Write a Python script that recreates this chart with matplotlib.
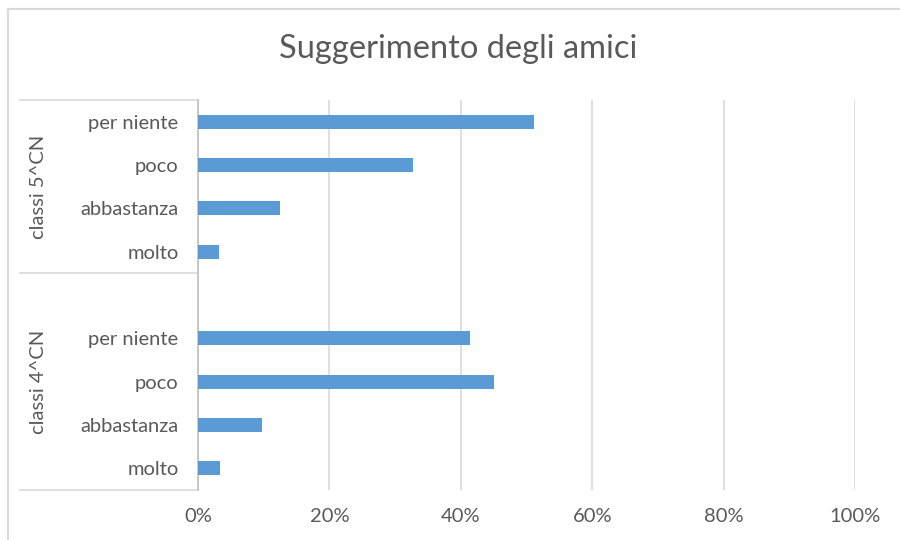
import matplotlib.pyplot as plt
from matplotlib.lines import Line2D
import matplotlib.transforms as mtransforms

# Data (percent)
answers = ['molto', 'abbastanza', 'poco', 'per niente']
groups = ['classi 4^CN', 'classi 5^CN']
values_4cn = [3.4, 9.7, 45.0, 41.4]
values_5cn = [3.2, 12.5, 32.8, 51.1]
x_ticks = [0, 20, 40, 60, 80, 100]

text_color = '#595959'
bar_color = '#5b9bd5'
grid_color = '#d9d9d9'

plt.rcParams['font.family'] = ['Lato', 'DejaVu Sans']

fig = plt.figure(figsize=(9, 5.4), dpi=100)
ax = fig.add_axes([198 / 900, 1 - 490 / 540, 657 / 900, 390 / 540])

# positions: group 4 in slots 0..3, empty slot 4, group 5 in slots 5..8
pos_4 = list(range(len(answers)))
pos_5 = [p + len(answers) + 1 for p in pos_4]

ax.barh(pos_4, values_4cn, height=0.33, color=bar_color, zorder=3)
ax.barh(pos_5, values_5cn, height=0.33, color=bar_color, zorder=3)

ax.set_xlim(0, 100)
ax.set_ylim(-0.5, pos_5[-1] + 0.5)
ax.set_xticks(x_ticks)
ax.set_xticklabels([f'{t}%' for t in x_ticks])
ax.set_yticks(pos_4 + pos_5)
ax.set_yticklabels(answers + answers)
ax.tick_params(axis='both', length=0, labelsize=14.5, colors=text_color)
ax.tick_params(axis='y', pad=14)
ax.tick_params(axis='x', pad=13)

ax.grid(axis='x', color=grid_color, linewidth=1.2, zorder=0)
for side in ['top', 'right', 'bottom']:
    ax.spines[side].set_visible(False)
ax.spines['left'].set_color('#bfbfbf')
ax.spines['left'].set_linewidth(1.2)

# group separators and group labels on the category axis
trans = mtransforms.blended_transform_factory(ax.transAxes, ax.transData)
x_left = (20 - 198) / 657
for y in [-0.5, len(answers) + 0.5, pos_5[-1] + 0.5]:
    ax.add_line(Line2D([x_left, 0], [y, y], transform=trans, color=grid_color,
                       linewidth=1.2, clip_on=False))
group_centers = [(-0.5 + len(answers) + 0.5) / 2, (pos_5[0] + pos_5[-1]) / 2]
for name, yc in zip(groups, group_centers):
    ax.text((38 - 198) / 657, yc, name, transform=trans, rotation=90,
            ha='center', va='center', fontsize=14.5, color=text_color)

# title
fig.text(458 / 900, 1 - 49 / 540, 'Suggerimento degli amici', ha='center',
         va='center', fontsize=23.5, color=text_color)

# chart border (top and left visible)
fig.add_artist(Line2D([8 / 900, 1], [1 - 9 / 540, 1 - 9 / 540], transform=fig.transFigure,
                      color=grid_color, linewidth=1.5))
fig.add_artist(Line2D([8 / 900, 8 / 900], [0, 1 - 9 / 540], transform=fig.transFigure,
                      color=grid_color, linewidth=1.5))

plt.savefig('out.png', dpi=100)
